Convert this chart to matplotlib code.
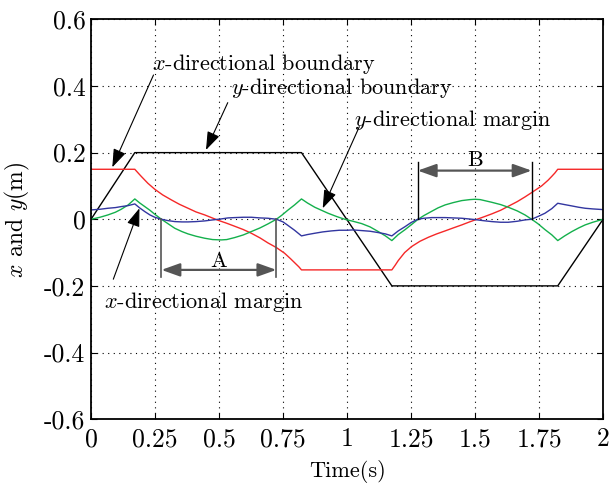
import matplotlib
matplotlib.use('Agg')
import matplotlib.pyplot as plt

plt.rcParams['font.family'] = 'serif'
plt.rcParams['font.serif'] = ['cmr10']
plt.rcParams['mathtext.fontset'] = 'cm'
plt.rcParams['axes.unicode_minus'] = False
plt.rcParams['axes.formatter.use_mathtext'] = True

#==============================
# data

# y-directional boundary (black)
t_yb = [0, 0.171, 0.822, 1.175, 1.823, 2.0]
y_yb = [0, 0.2, 0.2, -0.2, -0.2, 0]

# x-directional boundary (red)
t_xb = [0, 0.171, 0.185, 0.197, 0.222, 0.249, 0.28, 0.314, 0.345, 0.379, 0.41, 0.444,
        0.47, 0.496, 0.53, 0.561, 0.595, 0.626, 0.66, 0.691, 0.724, 0.756, 0.78, 0.80,
        0.812, 0.822, 1.175, 1.188, 1.2, 1.225, 1.252, 1.285, 1.318, 1.35, 1.383, 1.415,
        1.448, 1.475, 1.5, 1.53, 1.565, 1.6, 1.63, 1.665, 1.695, 1.721, 1.76, 1.785,
        1.80, 1.812, 1.823, 2.0]
y_xb = [0.15, 0.15, 0.138, 0.128, 0.108, 0.090, 0.073, 0.058, 0.045, 0.033, 0.022, 0.013,
        0.005, -0.003, -0.012, -0.021, -0.031, -0.042, -0.056, -0.071, -0.085, -0.102,
        -0.119, -0.134, -0.143, -0.152, -0.152, -0.138, -0.124, -0.100, -0.082, -0.066,
        -0.054, -0.044, -0.035, -0.026, -0.017, -0.009, -0.002, 0.006, 0.016, 0.027,
        0.039, 0.053, 0.067, 0.080, 0.100, 0.117, 0.129, 0.139, 0.150, 0.150]

# y-directional margin (green)
t_ym = [0, 0.035, 0.066, 0.095, 0.118, 0.145, 0.171, 0.19, 0.21, 0.23, 0.249, 0.275,
        0.30, 0.327, 0.355, 0.379, 0.41, 0.444, 0.475, 0.509, 0.53, 0.561, 0.595, 0.626,
        0.66, 0.691, 0.724, 0.745, 0.77, 0.795, 0.822, 0.845, 0.874, 0.90, 0.926, 0.96,
        0.991, 1.023, 1.057, 1.09, 1.122, 1.15, 1.175, 1.20, 1.227, 1.25, 1.276, 1.30,
        1.331, 1.355, 1.383, 1.415, 1.448, 1.48, 1.50, 1.52, 1.565, 1.60, 1.63, 1.665,
        1.695, 1.721, 1.745, 1.773, 1.80, 1.823, 1.85, 1.878, 1.905, 1.93, 1.96, 2.0]
y_ym = [0.0, 0.006, 0.013, 0.021, 0.030, 0.043, 0.061, 0.049, 0.038, 0.027, 0.015, 0.0,
        -0.013, -0.027, -0.037, -0.044, -0.051, -0.057, -0.061, -0.062, -0.061, -0.055,
        -0.047, -0.037, -0.026, -0.014, 0.0, 0.012, 0.028, 0.043, 0.061, 0.049, 0.036,
        0.027, 0.018, 0.008, 0.0, -0.006, -0.013, -0.023, -0.037, -0.050, -0.064, -0.046,
        -0.031, -0.017, -0.001, 0.011, 0.024, 0.034, 0.043, 0.050, 0.056, 0.059, 0.060,
        0.059, 0.051, 0.044, 0.036, 0.025, 0.013, 0.0, -0.013, -0.031, -0.047, -0.064,
        -0.050, -0.037, -0.026, -0.017, -0.009, 0.0]

# x-directional margin (blue)
t_xm = [0, 0.035, 0.066, 0.095, 0.118, 0.145, 0.171, 0.19, 0.21, 0.23, 0.249, 0.275,
        0.30, 0.327, 0.355, 0.379, 0.41, 0.444, 0.475, 0.509, 0.535, 0.561, 0.595, 0.626,
        0.66, 0.691, 0.724, 0.75, 0.77, 0.795, 0.822, 0.845, 0.874, 0.905, 0.939, 0.97,
        1.0, 1.023, 1.057, 1.09, 1.122, 1.15, 1.175, 1.20, 1.227, 1.25, 1.276, 1.30,
        1.331, 1.36, 1.383, 1.415, 1.448, 1.475, 1.5, 1.53, 1.565, 1.60, 1.63, 1.665,
        1.695, 1.721, 1.745, 1.773, 1.80, 1.823, 1.85, 1.878, 1.905, 1.93, 1.96, 2.0]
y_xm = [0.028, 0.030, 0.033, 0.035, 0.038, 0.041, 0.046, 0.034, 0.023, 0.013, 0.006, 0.0,
        -0.004, -0.007, -0.008, -0.008, -0.007, -0.005, -0.002, 0.001, 0.004, 0.005,
        0.006, 0.006, 0.004, 0.003, 0.0, -0.008, -0.019, -0.033, -0.050, -0.046, -0.042,
        -0.038, -0.035, -0.033, -0.033, -0.032, -0.034, -0.036, -0.040, -0.044, -0.050,
        -0.035, -0.022, -0.010, 0.0, 0.003, 0.005, 0.005, 0.005, 0.004, 0.003, 0.001,
        -0.001, -0.004, -0.007, -0.009, -0.009, -0.006, -0.002, 0.0, 0.008, 0.018, 0.032,
        0.048, 0.044, 0.040, 0.036, 0.033, 0.031, 0.029]

xticks = [0, 0.25, 0.5, 0.75, 1, 1.25, 1.5, 1.75, 2]
xtick_labels = ['0', '0.25', '0.5', '0.75', '1', '1.25', '1.5', '1.75', '2']
yticks = [-0.6, -0.4, -0.2, 0, 0.2, 0.4, 0.6]
ytick_labels = ['-0.6', '-0.4', '-0.2', '0', '0.2', '0.4', '0.6']

#==============================

fig = plt.figure(figsize=(6.11, 4.84), dpi=100)
ax = fig.add_axes([0.149, 0.134, 0.838, 0.826])

ax.plot(t_yb, y_yb, color='k', lw=1.0)
ax.plot(t_xb, y_xb, color='#f52828', lw=1.0)
ax.plot(t_ym, y_ym, color='#14b04c', lw=1.0)
ax.plot(t_xm, y_xm, color='#3236a0', lw=1.0)

ax.set_xlim(0, 2)
ax.set_ylim(-0.6, 0.6)
ax.set_xticks(xticks)
ax.set_xticklabels(xtick_labels)
ax.set_yticks(yticks)
ax.set_yticklabels(ytick_labels)
ax.tick_params(axis='both', which='both', direction='in', top=True, right=True,
               length=4, width=0.8, labelsize=18.5)
ax.tick_params(axis='x', pad=6)
ax.tick_params(axis='y', pad=4)
ax.grid(True, color='k', linestyle=(0, (1, 4)), lw=0.8)
for s in ax.spines.values():
    s.set_linewidth(1.3)

ax.set_xlabel('Time(s)', fontsize=16, labelpad=6)
ax.set_ylabel('$x$ and $y$(m)', fontsize=17, labelpad=9)

# curve labels with arrows
fs = 16
head = dict(arrowstyle='-|>,head_length=0.7,head_width=0.25', color='k', lw=0.8,
            mutation_scale=16, shrinkA=0, shrinkB=0)
ax.text(0.673, 0.465, '$x$-directional boundary', fontsize=fs, ha='center', va='center')
ax.annotate('', xy=(0.083, 0.156), xytext=(0.244, 0.433), arrowprops=head)
ax.text(0.98, 0.395, '$y$-directional boundary', fontsize=fs, ha='center', va='center')
ax.annotate('', xy=(0.449, 0.208), xytext=(0.534, 0.35), arrowprops=head)
ax.text(1.412, 0.298, '$y$-directional margin', fontsize=fs, ha='center', va='center')
ax.annotate('', xy=(0.905, 0.033), xytext=(1.048, 0.278), arrowprops=head)
ax.text(0.441, -0.247, '$x$-directional margin', fontsize=fs, ha='center', va='center')
ax.annotate('', xy=(0.189, 0.033), xytext=(0.087, -0.18), arrowprops=head)

# interval markers A and B
dbl = dict(arrowstyle='<|-|>,head_length=0.7,head_width=0.25', color='#555555', lw=1.6,
           mutation_scale=16, shrinkA=0, shrinkB=0)
ax.plot([0.275, 0.275], [0, -0.174], color='#555555', lw=1.2)
ax.plot([0.724, 0.724], [0, -0.174], color='#555555', lw=1.2)
ax.annotate('', xy=(0.275, -0.152), xytext=(0.724, -0.152), arrowprops=dbl)
ax.text(0.497, -0.127, 'A', fontsize=fs, ha='center', va='center')

ax.plot([1.276, 1.276], [0, 0.173], color='k', lw=1.0)
ax.plot([1.721, 1.721], [0, 0.173], color='k', lw=1.0)
ax.annotate('', xy=(1.276, 0.146), xytext=(1.721, 0.146), arrowprops=dbl)
ax.text(1.5, 0.178, 'B', fontsize=fs, ha='center', va='center')

fig.savefig('out.png', dpi=100)
